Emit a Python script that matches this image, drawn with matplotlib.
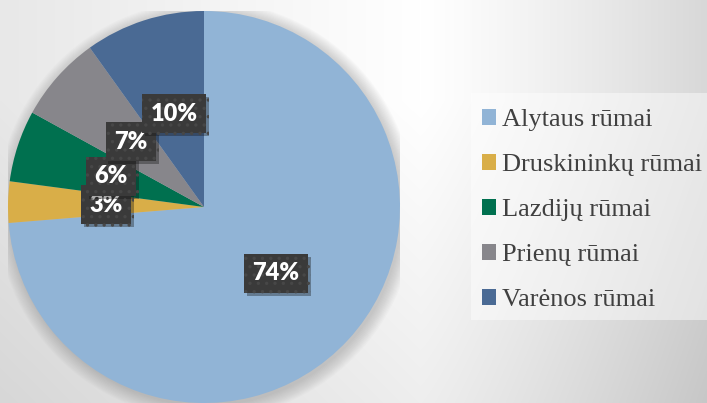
import numpy as np
import matplotlib
matplotlib.use('Agg')
import matplotlib.pyplot as plt
from matplotlib.patches import Patch, Rectangle, Circle
from matplotlib import patheffects as pe

# data
rumai = ['Alytaus rūmai', 'Druskininkų rūmai', 'Lazdijų rūmai', 'Prienų rūmai', 'Varėnos rūmai']
shares = [73.7, 3.4, 5.9, 7.1, 9.9]
colors = ['#91b4d6', '#d9ae48', '#00704f', '#87868b', '#4a6a94']

W, H = 707, 403
fig = plt.figure(figsize=(W / 100, H / 100), dpi=100)

# soft grey background, white towards the upper middle
bg = fig.add_axes([0, 0, 1, 1])
xx, yy = np.meshgrid(np.arange(W), np.arange(H))
fx = np.where(xx < 420, 23 * (420 - xx) / 420, 39 * (np.clip(xx - 420, 0, None) / 287) ** 1.2)
fy = 17 * np.clip(yy - 100, 0, None) / 303
v = (255 - fx - fy) / 255
bg.imshow(np.dstack([v, v, v]), extent=(0, W, H, 0), aspect='auto', interpolation='bilinear')
bg.set_xlim(0, W)
bg.set_ylim(H, 0)
bg.axis('off')

# pie: centre (204, 207) px, radius 196 px
cx, cy, r = 204, 207, 196
ax = fig.add_axes([(cx - r) / W, (H - cy - r) / H, 2 * r / W, 2 * r / H])
ax.axis('off')

# blurred shadow round the pie
for k in range(12):
    ax.add_patch(Circle((0.01, -0.015), 1.0 + 0.006 * k, color='#808080', alpha=0.035, lw=0, zorder=0))

wedges, texts, autotexts = ax.pie(
    shares, colors=colors, startangle=90, counterclock=False, radius=1,
    autopct=lambda p: f'{p:.0f}%', pctdistance=0.5,
    wedgeprops=dict(linewidth=0),
    textprops=dict(color='white', fontsize=17, fontweight='heavy', family=['Lato', 'DejaVu Sans']),
)
ax.set_xlim(-1, 1)
ax.set_ylim(-1, 1)
ax.set_aspect('auto')

plt.rcParams['hatch.linewidth'] = 1.2
for t in autotexts:
    t.set_bbox(dict(boxstyle='square,pad=0.36', facecolor='#3a3a3a', edgecolor='#474747',
                    hatch='..', linewidth=0))
    t.get_bbox_patch().set_path_effects([pe.SimplePatchShadow(offset=(2, -2), alpha=0.35), pe.Normal()])

# legend panel
fig.patches.append(Rectangle((471 / W, 1 - 320 / H), (W - 471) / W, 227 / H, transform=fig.transFigure,
                             facecolor='white', alpha=0.45, linewidth=0, zorder=1))
handles = [Patch(facecolor=c, edgecolor='none') for c in colors]
leg = fig.legend(handles, rumai, loc='upper left', bbox_to_anchor=(482 / W, 1 - 109 / H),
                 frameon=False, borderpad=0, borderaxespad=0,
                 handlelength=0.53, handleheight=0.53, handletextpad=0.22, labelspacing=0.87,
                 prop=dict(family='Liberation Serif', size=19))
for t in leg.get_texts():
    t.set_color('#404040')

fig.savefig('out.png', dpi=100)
